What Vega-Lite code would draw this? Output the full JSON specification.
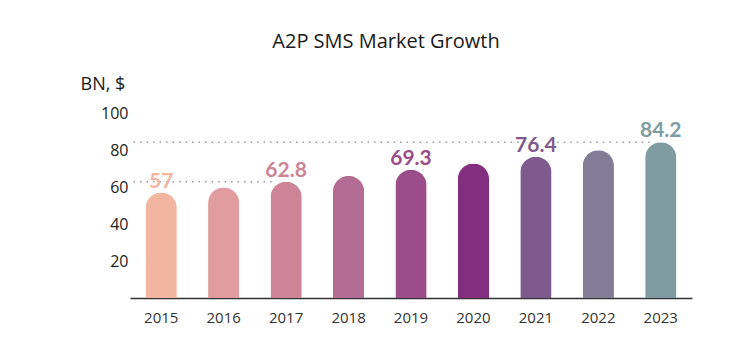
{
  "$schema": "https://vega.github.io/schema/vega-lite/v6.json",
  "width": 562,
  "height": 185,
  "autosize": {"type": "none"},
  "padding": {"left": 130, "top": 113, "right": 56, "bottom": 52},
  "background": "white",
  "title": {
    "text": "A2P SMS Market Growth",
    "font": "Open Sans",
    "fontSize": 20,
    "fontWeight": 500,
    "color": "#1a1a1a",
    "anchor": "middle",
    "frame": "group",
    "dx": -25,
    "offset": 23
  },
  "config": {"view": {"stroke": null}},
  "datasets": {
    "bars": [
      {"year": "2015", "value": 57, "label": "57"},
      {"year": "2016", "value": 59.7, "label": ""},
      {"year": "2017", "value": 62.8, "label": "62.8"},
      {"year": "2018", "value": 66, "label": ""},
      {"year": "2019", "value": 69.3, "label": "69.3"},
      {"year": "2020", "value": 72.7, "label": ""},
      {"year": "2021", "value": 76.4, "label": "76.4"},
      {"year": "2022", "value": 79.9, "label": ""},
      {"year": "2023", "value": 84.2, "label": "84.2"}
    ]
  },
  "encoding": {
    "x": {
      "field": "year",
      "type": "nominal",
      "scale": {"paddingInner": 0.5, "paddingOuter": 0.25},
      "axis": {
        "title": null,
        "labelAngle": 0,
        "ticks": false,
        "domainColor": "#333333",
        "domainWidth": 1.5,
        "labelPadding": 12,
        "labelFont": "Open Sans",
        "labelFontSize": 15,
        "labelColor": "#333333"
      }
    }
  },
  "layer": [
    {
      "data": {"values": [{"y": 62.8, "a": "2015", "b": "2017"}]},
      "mark": {"type": "rule", "strokeDash": [1.5, 5], "strokeWidth": 1.5, "color": "#999999", "xOffset": -12, "x2Offset": -12},
      "encoding": {
        "x": {"field": "a", "type": "nominal", "bandPosition": 0},
        "x2": {"field": "b"},
        "y": {"field": "y", "type": "quantitative"}
      }
    },
    {
      "data": {"values": [{"y": 84.2, "a": "2015", "b": "2021"}]},
      "mark": {"type": "rule", "strokeDash": [1.5, 5], "strokeWidth": 1.5, "color": "#999999", "xOffset": -12, "x2Offset": -12},
      "encoding": {
        "x": {"field": "a", "type": "nominal", "bandPosition": 0},
        "x2": {"field": "b"},
        "y": {"field": "y", "type": "quantitative"}
      }
    },
    {
      "data": {"values": [{"y": 84.2, "a": "2021", "b": "2023"}]},
      "mark": {"type": "rule", "strokeDash": [1.5, 5], "strokeWidth": 1.5, "color": "#999999", "xOffset": 37, "x2Offset": -8},
      "encoding": {
        "x": {"field": "a", "type": "nominal", "bandPosition": 0},
        "x2": {"field": "b"},
        "y": {"field": "y", "type": "quantitative"}
      }
    },
    {
      "data": {"name": "bars"},
      "mark": {"type": "bar", "cornerRadiusTopLeft": 15.6, "cornerRadiusTopRight": 15.6},
      "encoding": {
        "y": {
          "field": "value",
          "type": "quantitative",
          "scale": {"domain": [0, 100], "nice": false},
          "axis": {
            "values": [20, 40, 60, 80, 100],
            "grid": false,
            "ticks": false,
            "domain": false,
            "labelPadding": 2,
            "labelFont": "Open Sans",
            "labelFontSize": 16,
            "labelColor": "#222222",
            "title": "BN, $",
            "titleAngle": 0,
            "titleAlign": "left",
            "titleBaseline": "alphabetic",
            "titleX": -50,
            "titleY": -24,
            "titleFont": "Open Sans",
            "titleFontSize": 18,
            "titleFontWeight": 500,
            "titleColor": "#1a1a1a"
          }
        },
        "color": {
          "field": "year",
          "type": "nominal",
          "legend": null,
          "scale": {
            "domain": ["2015", "2016", "2017", "2018", "2019", "2020", "2021", "2022", "2023"],
            "range": ["#F2B5A0", "#E09C9E", "#CC8496", "#B46D92", "#9B4D8A", "#832E7F", "#7F5A8D", "#827C96", "#7F9CA0"]
          }
        }
      }
    },
    {
      "data": {"name": "bars"},
      "mark": {"type": "text", "font": "Lato", "fontWeight": "bold", "fontSize": 21, "baseline": "alphabetic", "dy": -5},
      "encoding": {
        "y": {"field": "value", "type": "quantitative"},
        "text": {"field": "label"},
        "color": {"field": "year", "type": "nominal", "legend": null}
      }
    }
  ]
}
